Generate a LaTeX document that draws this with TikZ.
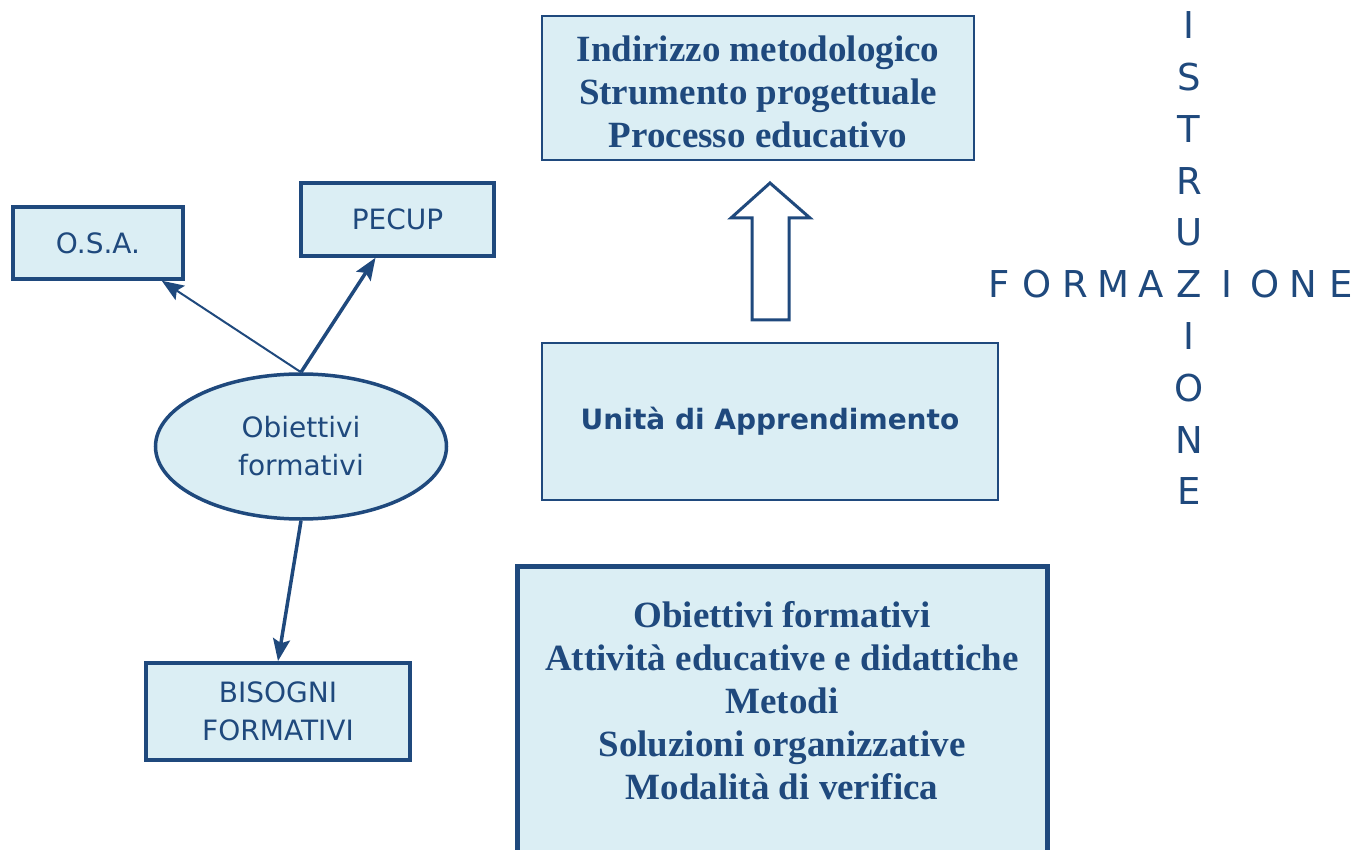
\documentclass[tikz,border=0pt]{standalone}
\usepackage{fontspec}
\setmainfont{Liberation Serif}
\setsansfont{DejaVu Sans}
\newfontfamily\cwfont{DejaVu Sans}
\usetikzlibrary{arrows.meta,shapes.geometric}
\definecolor{dblue}{RGB}{31,73,125}
\definecolor{lblue}{RGB}{219,238,244}
\begin{document}
\begin{tikzpicture}[x=1pt,y=-1pt,
  box/.style={draw=dblue, fill=lblue, inner sep=0pt, text=dblue, align=center},
  sansbox/.style={box, line width=3.5pt, font=\sffamily\fontsize{28}{38}\selectfont},
  seriftext/.style={inner sep=0pt, text=dblue, align=center, font=\bfseries\fontsize{37}{43}\selectfont},
  conn/.style={draw=dblue, -{Stealth[length=22pt,width=17pt,inset=4pt]}},
  cw/.style={text=dblue, font=\cwfont\fontsize{37}{37}\selectfont, inner sep=0pt, anchor=center, text height=0.73em, text depth=0pt}
]
\useasboundingbox (0,0) rectangle (1355,850);
\clip (0,0) rectangle (1355,850);
\fill[white] (0,0) rectangle (1355,850);

% top box
\node[box, line width=2pt, minimum width=432pt, minimum height=144pt] (top) at (758,88) {};
\node[seriftext] (toptxt) at (758,92) {Indirizzo metodologico\\Strumento progettuale\\Processo educativo};

% left cluster
\node[sansbox, minimum width=170pt, minimum height=72pt] (osa) at (98,243) {O.S.A.};
\node[sansbox, minimum width=193pt, minimum height=73pt] (pecup) at (397.5,219.5) {PECUP};
\node[sansbox, ellipse, minimum width=291pt, minimum height=145pt] (ell) at (301,446.5) {Obiettivi\\formativi};
\node[sansbox, line width=4pt, minimum width=264pt, minimum height=97pt] (bis) at (278,711.5) {BISOGNI\\FORMATIVI};

\draw[conn, line width=2pt] (ell.north) -- ([xshift=-23pt]osa.south east);
\draw[conn, line width=3.5pt] (ell.north) -- ([xshift=-22pt]pecup.south);
\draw[conn, line width=3.5pt] (ell.south) -- (bis.north);

% unita
\node[box, line width=2pt, minimum width=456pt, minimum height=157pt,
      font=\sffamily\bfseries\fontsize{28}{32}\selectfont] (uda) at (770,421.5) {Unità di Apprendimento};

% hollow arrow
\draw[dblue, line width=3pt, fill=white, line join=miter]
  (770,183) -- (810,218) -- (789,218) -- (789,320) -- (752,320) -- (752,218) -- (731,218) -- cycle;

% bottom box
\node[box, line width=5pt, minimum width=530pt, minimum height=360pt] (bot) at (782,746) {};
\node[seriftext] (bottxt) at (782,701) {Obiettivi formativi\\Attività educative e didattiche\\Metodi\\Soluzioni organizzative\\Modalità di verifica};

% crossword
\foreach \l [count=\i from 0] in {I,S,T,R,U,Z,I,O,N,E}
  \node[cw] (v\i) at (1189, 35+51.8*\i) {\l};
\foreach \l [count=\i from 0] in {F,O,R,M,A}
  \node[cw] (h\i) at (999+38*\i, 294) {\l};
\foreach \l [count=\i from 6] in {I,O,N,E}
  \node[cw] (h\i) at (999+38*\i, 294) {\l};
\end{tikzpicture}
\end{document}
